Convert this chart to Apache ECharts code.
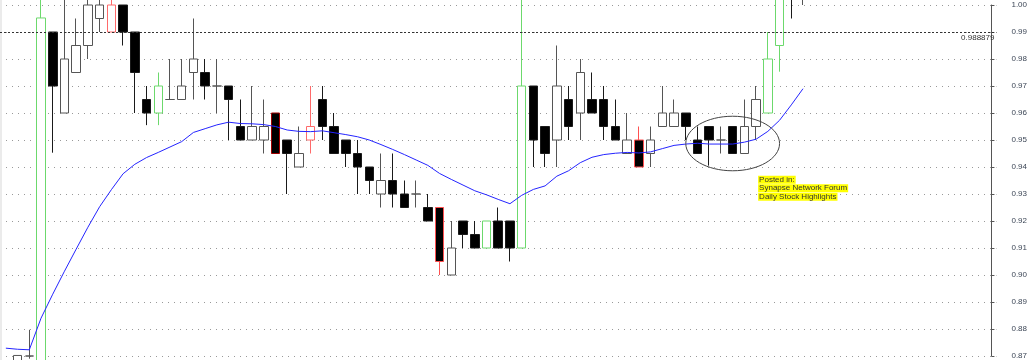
<!DOCTYPE html>
<html>
<head>
<meta charset="utf-8">
<script src="https://cdn.jsdelivr.net/npm/echarts@6/dist/echarts.min.js"></script>
<style>
html,body{margin:0;padding:0;background:#fff;}
#c{width:1030px;height:360px;}
</style>
</head>
<body>
<div id="c"></div>
<script>
// ---- data ----
// 85 trading-day slots; candles occupy the first 69, the rest is empty space to the right
const categories = Array.from({length: 85}, (_, i) => 'D' + (i + 1));

const opens  = [null,0.868,0.870,0.868,0.990,0.960,0.975,0.985,0.995,0.990,1.000,0.990,0.965,0.960,0.965,0.965,0.975,0.975,0.970,0.970,
                0.955,0.950,0.950,0.960,0.950,0.940,0.950,0.965,0.955,0.950,0.945,0.940,0.930,0.935,0.930,0.930,0.925,0.925,0.900,0.920,
                0.915,0.910,0.920,0.920,0.910,0.970,0.955,0.950,0.965,0.960,0.965,0.965,0.955,0.945,0.950,0.945,0.955,0.955,0.960,0.950,
                0.955,0.950,0.955,0.945,0.955,0.960,0.985,1.012,1.010];
const closes = [null,0.8702,0.870,0.9952,0.970,0.980,0.985,1.000,1.000,1.000,0.990,0.975,0.960,0.970,0.965,0.970,0.980,0.970,0.970,0.965,
                0.950,0.955,0.955,0.945,0.945,0.945,0.955,0.955,0.945,0.945,0.940,0.935,0.935,0.930,0.925,0.930,0.920,0.905,0.910,0.915,
                0.910,0.920,0.910,0.910,0.970,0.950,0.945,0.970,0.955,0.975,0.960,0.955,0.950,0.950,0.940,0.950,0.960,0.960,0.955,0.945,
                0.950,0.950,0.945,0.955,0.965,0.980,1.010,1.008,1.012];
const lows   = [null,0.866,0.869,0.866,0.9453,0.960,0.975,0.980,0.990,0.990,0.985,0.960,0.9555,0.9555,0.965,0.965,0.965,0.965,0.960,0.950,
                0.950,0.950,0.945,0.945,0.930,0.940,0.945,0.950,0.945,0.940,0.930,0.930,0.925,0.925,0.925,0.925,0.920,0.900,0.900,0.910,
                0.910,0.910,0.910,0.905,0.910,0.940,0.940,0.940,0.950,0.950,0.960,0.950,0.950,0.945,0.940,0.940,0.955,0.955,0.950,0.945,
                0.9405,0.945,0.945,0.945,0.950,0.960,0.9753,0.995,1.000];
const highs  = [null,0.8702,0.8797,1.010,0.990,1.010,0.995,1.005,1.005,1.005,1.000,0.990,0.970,0.975,0.980,0.980,0.995,0.980,0.980,0.970,
                0.965,0.970,0.965,0.960,0.950,0.955,0.970,0.970,0.960,0.950,0.950,0.940,0.945,0.945,0.935,0.935,0.930,0.925,0.920,0.920,
                0.920,0.920,0.925,0.920,1.010,0.970,0.955,0.985,0.970,0.980,0.975,0.970,0.965,0.960,0.955,0.955,0.970,0.965,0.960,0.955,
                0.955,0.955,0.955,0.965,0.970,0.990,1.015,1.015,1.015];
// signal type of each bar: n = normal, v = volume breakout, a = alert, d = strong alert
const signals = ['n','n','n','v','n','n','n','n','n','a','n','n','n','v','n','n','n','n','n','n',
                 'n','n','n','d','n','n','a','n','n','n','n','n','n','n','n','n','n','a','n','n',
                 'n','v','n','n','v','n','n','n','n','n','n','n','n','n','a','n','n','n','n','n',
                 'n','n','n','n','n','v','v','n','n'];
// moving average
const movingAvg = [0.8729,0.8725,0.8723,0.8840,0.8929,0.9014,0.9096,0.9177,0.9253,0.9316,0.9375,0.9410,0.9435,0.9454,0.9474,0.9494,0.9528,0.9542,0.9556,0.9566,
                   0.9561,0.9560,0.9557,0.9550,0.9537,0.9532,0.9531,0.9534,0.9527,0.9520,0.9512,0.9500,0.9483,0.9465,0.9446,0.9426,0.9406,0.9376,0.9354,0.9333,
                   0.9312,0.9297,0.9280,0.9264,0.9295,0.9317,0.9330,0.9366,0.9386,0.9416,0.9436,0.9446,0.9451,0.9454,0.9452,0.9456,0.9468,0.9480,0.9485,0.9488,
                   0.9485,0.9485,0.9485,0.9492,0.9503,0.9532,0.9573,0.9630,0.9690];
const lastPrice = 0.988879;
const yTicks = {min: 0.87, max: 1.00, step: 0.01};

// ---- styles ----
const palette = {
  up:   {fill: '#ffffff', border: '#555555'},
  down: {fill: '#000000', border: '#1a1a1a'},
  v:    {fill: '#ffffff', border: '#6cd96c'},
  aUp:  {fill: '#ffffff', border: '#ff6a6a'},
  aDn:  {fill: '#000000', border: '#ff5050'},
  d:    {fill: '#000000', border: '#a00000'}
};
function styleOf(sig, up) {
  if (sig === 'v') return palette.v;
  if (sig === 'a') return up ? palette.aUp : palette.aDn;
  if (sig === 'd') return palette.d;
  return up ? palette.up : palette.down;
}
const candleData = opens.map((o, i) => {
  if (o === null) return '-';
  const up = closes[i] >= o;
  const s = styleOf(signals[i], up);
  return {
    value: [o, closes[i], lows[i], highs[i]],
    itemStyle: {color: s.fill, color0: s.fill, borderColor: s.border, borderColor0: s.border, borderColorDoji: s.border, borderWidth: 1}
  };
});

const chart = echarts.init(document.getElementById('c'), null, {renderer: 'canvas'});
const option = {
  animation: false,
  backgroundColor: '#ffffff',
  grid: {left: 0, top: 5, width: 998, height: 353},
  xAxis: {type: 'category', data: categories, boundaryGap: true, show: false},
  yAxis: {
    type: 'value', position: 'right', offset: -5,
    min: yTicks.min, max: yTicks.max, interval: yTicks.step,
    axisLine: {show: true, lineStyle: {color: '#555', width: 1}},
    axisTick: {show: true, length: 3, lineStyle: {color: '#555'}},
    axisLabel: {margin: 20, fontSize: 8, color: '#3c4656', fontFamily: 'Liberation Sans, Arial, sans-serif',
                formatter: v => v.toFixed(2)},
    splitLine: {show: true, lineStyle: {color: '#999', width: 1, type: [1, 5]}}
  },
  series: [
    {
      type: 'candlestick', data: candleData, barWidth: 9, clip: false,
      markLine: {
        silent: true, symbol: ['none', 'none'], animation: false,
        data: [{yAxis: lastPrice}],
        lineStyle: {color: '#333', width: 1, type: [2, 2]},
        label: {show: true, position: 'insideEndBottom', formatter: String(lastPrice), fontSize: 8,
                color: '#333', fontFamily: 'Liberation Sans, Arial, sans-serif', distance: 2}
      }
    },
    {
      type: 'line', data: movingAvg, showSymbol: false, symbol: 'none', clip: false,
      lineStyle: {color: '#2424ff', width: 1}, z: 3
    }
  ]
};
chart.setOption(option);

// annotations anchored to the data coordinates
const c = chart.convertToPixel({gridIndex: 0}, [62, 0.9487]);
const e = chart.convertToPixel({gridIndex: 0}, [66, 0.9588]);
const t = chart.convertToPixel({gridIndex: 0}, [64, 0.9368]);
const textFont = '8px "Liberation Sans", Arial, sans-serif';
const lines = ['Posted in:', 'Synapse Network Forum', 'Daily Stock Highlights'];
chart.setOption({
  graphic: [
    {type: 'rect', shape: {x: 0, y: 0, width: 2, height: 360}, style: {fill: '#ebebeb'}, silent: true},
    {type: 'ellipse', shape: {cx: c[0], cy: c[1], rx: e[0] - c[0], ry: c[1] - e[1]},
     style: {fill: 'none', stroke: '#444', lineWidth: 1}, silent: true, z: 10}
  ].concat(lines.map((s, k) => ({
    type: 'text', x: t[0] + 2, y: t[1] + k * 8.6, silent: true, z: 10,
    style: {text: s, font: textFont, fill: '#333', backgroundColor: '#ffff00', padding: [0, 1, 0, 1],
            verticalAlign: 'top', lineHeight: 8}
  })))
});
</script>
</body>
</html>
